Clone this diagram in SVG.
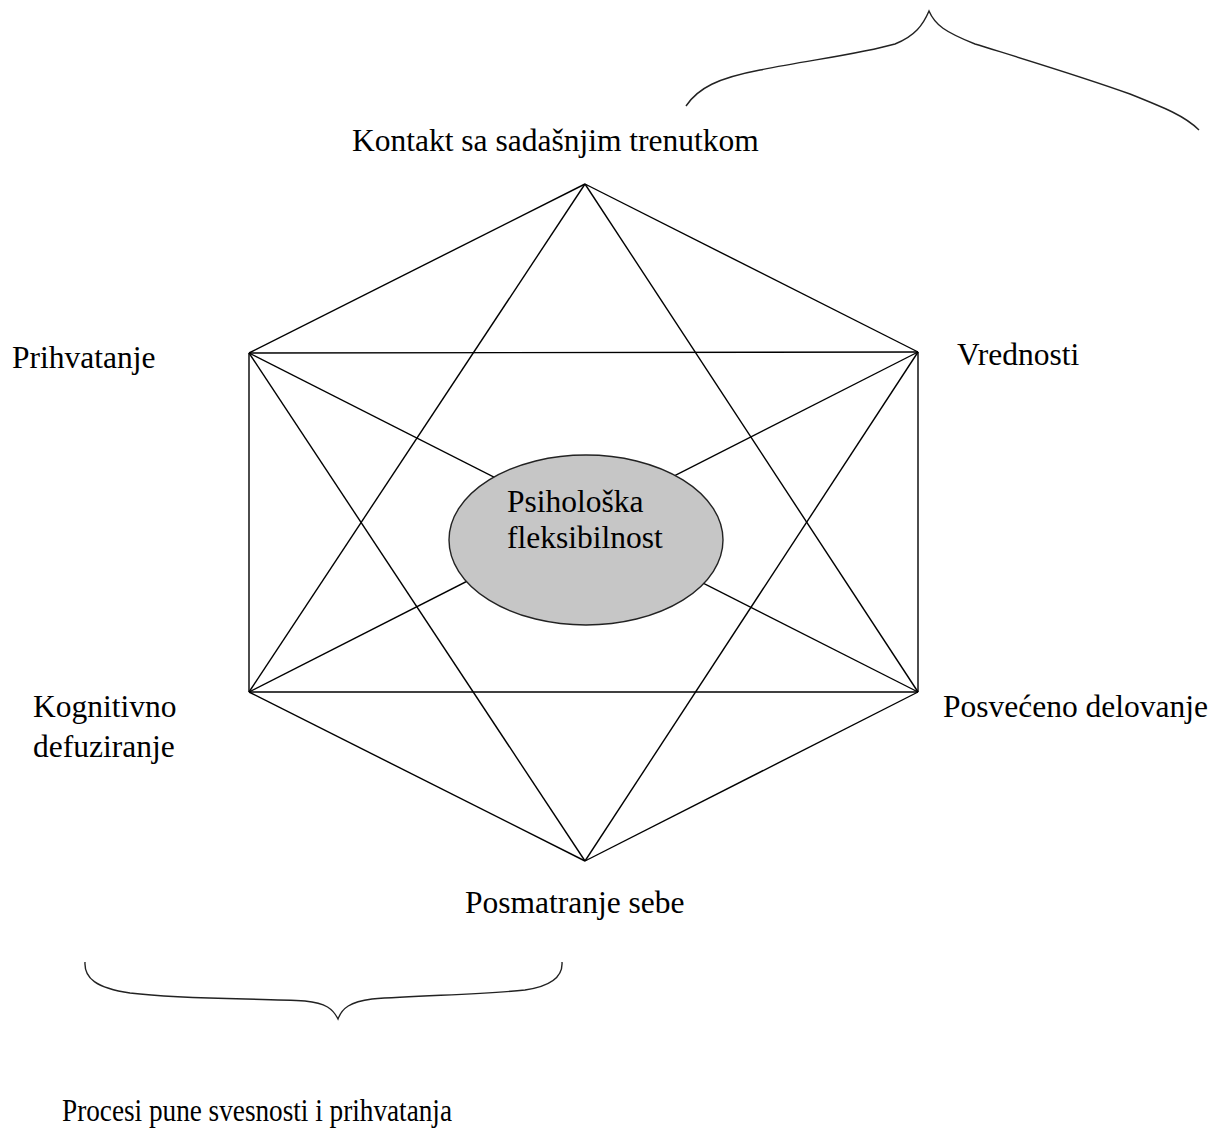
<svg xmlns="http://www.w3.org/2000/svg" width="1215" height="1132" viewBox="0 0 1215 1132">
<style>
.lbl{font-family:"Liberation Serif","Times New Roman",serif;font-size:31.5px;fill:#000}
.ln{stroke:#000;stroke-width:1.4;fill:none}
.br{stroke:#222;stroke-width:1.4;fill:none}
</style>
<rect width="1215" height="1132" fill="#fff"/>
<g id="connectors">
<line class="ln" x1="585" y1="184" x2="249" y2="353"/>
<line class="ln" x1="585" y1="184" x2="918" y2="352"/>
<line class="ln" x1="249" y1="353" x2="918" y2="352"/>
<line class="ln" x1="249" y1="353" x2="249" y2="692"/>
<line class="ln" x1="918" y1="352" x2="918" y2="692"/>
<line class="ln" x1="249" y1="692" x2="918" y2="692"/>
<line class="ln" x1="249" y1="692" x2="585" y2="861"/>
<line class="ln" x1="918" y1="692" x2="585" y2="861"/>
<line class="ln" x1="585" y1="184" x2="249" y2="692"/>
<line class="ln" x1="585" y1="184" x2="918" y2="692"/>
<line class="ln" x1="585" y1="861" x2="249" y2="353"/>
<line class="ln" x1="585" y1="861" x2="918" y2="352"/>
<line class="ln" x1="249" y1="353" x2="918" y2="692"/>
<line class="ln" x1="918" y1="352" x2="249" y2="692"/>
</g>
<g id="center">
<ellipse cx="586" cy="540" rx="137" ry="85" fill="#c6c6c6" stroke="#222" stroke-width="1.4"/>
<text class="lbl" x="507" y="512">Psihološka</text>
<text class="lbl" x="507" y="548">fleksibilnost</text>
</g>
<g id="node-kontakt"><text class="lbl" x="352" y="151">Kontakt sa sadašnjim trenutkom</text></g>
<g id="node-prihvatanje"><text class="lbl" x="12" y="368">Prihvatanje</text></g>
<g id="node-vrednosti"><text class="lbl" x="957" y="365">Vrednosti</text></g>
<g id="node-kognitivno"><text class="lbl" x="33" y="717">Kognitivno</text><text class="lbl" x="33" y="757">defuziranje</text></g>
<g id="node-posveceno"><text class="lbl" x="943" y="717">Posvećeno delovanje</text></g>
<g id="node-posmatranje"><text class="lbl" x="465" y="913">Posmatranje sebe</text></g>
<g id="brace-top">
<path class="br" d="M686,106 C698,88 718,78 760,70 C810,60 860,54 895,44 C915,36 923,25 929,11 C935,25 945,32 975,44 C1020,58 1080,76 1130,94 C1165,108 1185,116 1199,130"/>
</g>
<g id="brace-bottom">
<path class="br" d="M85,962 C84,978 96,988 130,993 C190,1000 260,998 305,1001 C326,1003 333,1009 338,1019 C342,1008 350,1002 372,999 C420,995 480,995 525,990 C552,986 563,976 562,962"/>
</g>
<g id="label-procesi"><text class="lbl" x="62" y="1121" textLength="390" lengthAdjust="spacingAndGlyphs">Procesi pune svesnosti i prihvatanja</text></g>
</svg>
